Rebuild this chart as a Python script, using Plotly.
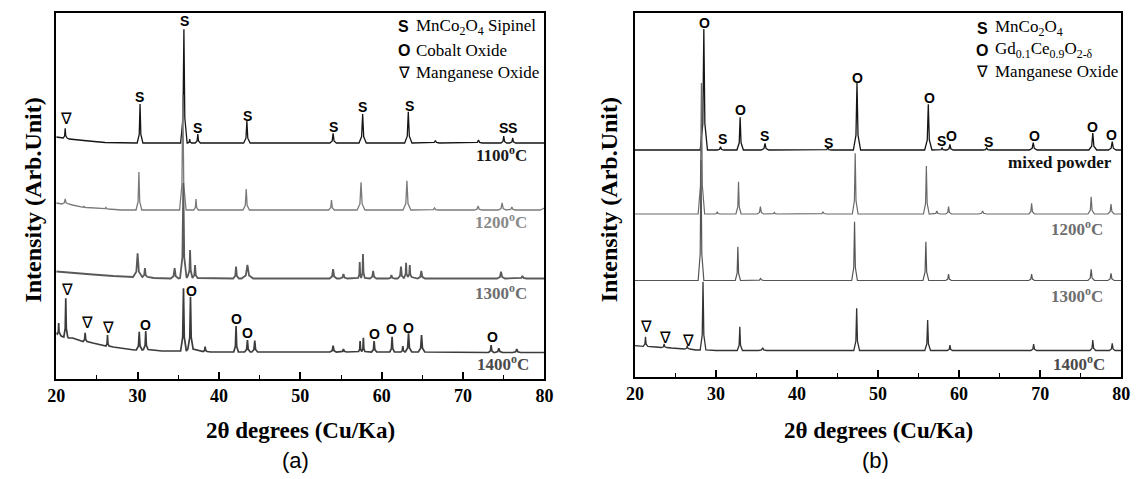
import plotly.graph_objects as go

W, H = 1140, 479

# ---------------- panel (a): MnCo2O4 after firing at several temperatures ----------------
# background points (2theta, intensity) and peaks (2theta, apex, half-width, foot level)
a1100_bg = [(20.0, 242), (20.7, 241.5), (21.6, 240), (22.5, 239.5), (24.0, 238), (26.0, 236.5), (28.0, 236), (80.0, 236)]
a1100_peaks = [
    (21.1, 250.7, 0.15, 241), (30.3, 275, 0.22, 236), (35.69, 349.7, 0.25, 236), (36.4, 240, 0.15, 236),
    (37.4, 245, 0.2, 236), (43.43, 258, 0.25, 236), (54.03, 245.7, 0.25, 236), (57.66, 265, 0.28, 236),
    (63.27, 267.3, 0.28, 236), (66.6, 238.5, 0.3, 236), (71.9, 239, 0.3, 236), (75.0, 243, 0.22, 236),
    (76.1, 241, 0.22, 236),
]

a1200_bg = [(20.0, 176), (20.6, 175), (22.0, 174), (23.0, 172), (24.5, 171), (25.5, 170.5), (28.0, 169), (79.5, 169), (80.0, 171)]
a1200_peaks = [
    (21.1, 180, 0.25, 175), (23.4, 172.5, 0.2, 171.5), (26.1, 171.5, 0.2, 170), (30.16, 207, 0.22, 169),
    (35.56, 284, 0.25, 169), (37.18, 180, 0.18, 169), (43.35, 190, 0.25, 169), (53.83, 179, 0.22, 169),
    (57.46, 196.7, 0.3, 169), (63.1, 198.3, 0.3, 169), (66.5, 171, 0.3, 169), (71.85, 173, 0.3, 169),
    (74.8, 176, 0.3, 169), (76.0, 172, 0.3, 169),
]

a1300_bg = [(20.0, 107.5), (21.0, 107), (22.5, 106), (24.5, 104.5), (27.0, 103), (29.0, 102), (32.0, 101), (33.5, 100.5), (80.0, 100.5)]
a1300_peaks = [
    (30.0, 125.7, 0.35, 102), (30.9, 111, 0.2, 102), (34.55, 111, 0.3, 100.5), (35.62, 196, 0.25, 101),
    (36.45, 129, 0.17, 103), (37.06, 114, 0.2, 101), (42.1, 112.3, 0.22, 100.5), (43.5, 114, 0.45, 100.5),
    (54.03, 110, 0.28, 100.5), (55.3, 105, 0.3, 100.5), (57.3, 117, 0.12, 101), (57.7, 125, 0.14, 101),
    (58.95, 108, 0.25, 100.5), (61.2, 104, 0.25, 100.5), (62.37, 112.3, 0.25, 100.5), (63.0, 116.3, 0.13, 102),
    (63.45, 114, 0.14, 102), (64.87, 108, 0.28, 100.5), (74.67, 107.3, 0.3, 100.5), (77.3, 103, 0.3, 100.5),
]

a1400_bg = [(20.0, 46), (20.6, 43), (21.5, 41), (22.0, 41), (23.0, 38), (24.5, 36), (25.5, 34.5), (27.0, 32),
            (28.5, 30), (29.6, 29), (33.0, 28), (39.0, 27), (80.0, 26.5)]
a1400_peaks = [
    (20.3, 56, 0.1, 45), (21.17, 80.7, 0.15, 42), (23.55, 46.3, 0.15, 37.5), (26.3, 44, 0.12, 33),
    (30.2, 47.3, 0.22, 29), (31.0, 48, 0.18, 29.5), (35.64, 90.7, 0.22, 28), (36.5, 82.3, 0.2, 30),
    (38.3, 32.3, 0.15, 27.5), (42.1, 53, 0.18, 27), (43.5, 39, 0.22, 27), (44.4, 38.3, 0.22, 27),
    (54.03, 33.3, 0.25, 27), (55.3, 30, 0.25, 27), (57.35, 38, 0.12, 27.5), (57.75, 41.3, 0.12, 27.5),
    (59.07, 38, 0.2, 27), (61.28, 42.3, 0.18, 27), (62.6, 33, 0.15, 27), (63.3, 45.7, 0.25, 27),
    (64.9, 44, 0.25, 27), (73.45, 34, 0.2, 26.5), (74.4, 30.7, 0.3, 26.5), (76.6, 30, 0.3, 26.5),
]

# phase markers for panel (a)
a_spinel = [(30.25, 281.7), (35.76, 358), (37.38, 250.7), (43.47, 263), (54.03, 252.3), (57.66, 271.7),
            (63.39, 273), (75.0, 251), (76.1, 251)]
a_cobalt = [(31.0, 54), (36.66, 88.3), (42.14, 60), (43.55, 45.7), (59.16, 44.7), (61.25, 49.7), (63.27, 51.3), (73.59, 42.3)]
a_mn = [(21.2, 260.7), (21.3, 89.7), (23.79, 56.3), (26.37, 51.3)]

# ---------------- panel (b): MnCo2O4 + GDC mixtures ----------------
bmix_bg = [(20.0, 227), (80.0, 227)]
bmix_peaks = [
    (28.5, 348, 0.28, 227), (30.56, 230.3, 0.25, 227), (32.98, 259.7, 0.25, 227), (36.05, 233.7, 0.3, 227),
    (43.8, 229, 0.3, 227), (47.4, 294.3, 0.28, 227), (56.2, 272.7, 0.28, 227), (57.9, 229, 0.25, 227),
    (58.87, 232.7, 0.25, 227), (63.4, 229, 0.3, 227), (69.15, 234.3, 0.3, 227), (76.5, 244, 0.3, 227),
    (78.9, 235.3, 0.3, 227),
]

b1200_bg = [(20.0, 163), (80.0, 163)]
b1200_peaks = [
    (28.2, 294, 0.25, 163), (30.16, 165.3, 0.2, 163), (32.78, 195.3, 0.2, 163), (35.48, 170.3, 0.25, 163),
    (37.2, 164.5, 0.25, 163), (43.2, 165, 0.3, 163), (47.18, 223.7, 0.22, 163), (55.96, 211, 0.22, 163),
    (57.25, 166, 0.25, 163), (58.7, 170.3, 0.22, 163), (62.9, 166, 0.3, 163), (68.95, 173.7, 0.22, 163),
    (76.3, 180.3, 0.25, 163), (78.75, 173, 0.25, 163),
]

b1300_bg = [(20.0, 96.5), (80.0, 96.5)]
b1300_peaks = [
    (28.15, 217, 0.22, 96.5), (32.7, 130.3, 0.2, 96.5), (35.5, 98.5, 0.3, 96.5), (47.1, 155.3, 0.22, 96.5),
    (55.9, 135.3, 0.22, 96.5), (58.7, 103, 0.22, 96.5), (68.95, 103, 0.22, 96.5), (76.3, 107.7, 0.25, 96.5),
    (78.75, 103.7, 0.25, 96.5),
]

b1400_bg = [(20.0, 31.3), (20.8, 31), (22.5, 30), (24.5, 29), (26.0, 28.3), (27.5, 27), (30.0, 26.5), (80.0, 26.5)]
b1400_peaks = [
    (21.3, 40.3, 0.18, 30.7), (23.6, 33, 0.2, 29.5), (26.45, 31, 0.2, 28), (28.4, 95.3, 0.22, 27),
    (32.94, 50.3, 0.2, 26.5), (35.76, 29.3, 0.3, 26.5), (47.36, 68.7, 0.22, 26.5), (56.12, 57, 0.22, 26.5),
    (58.87, 32, 0.2, 26.5), (69.2, 33, 0.22, 26.5), (76.5, 37, 0.22, 26.5), (78.9, 33.7, 0.22, 26.5),
]

b_spinel = [(30.8, 237.7), (35.98, 241), (43.87, 234.3), (57.85, 236), (63.65, 235.3)]
b_gdc = [(28.62, 354.5), (33.02, 267), (47.43, 298.7), (56.32, 278.7), (59.11, 241), (69.36, 241), (76.46, 250.3), (78.87, 242)]
b_mn = [(21.42, 51), (23.73, 39.3), (26.55, 37)]

# sample labels: (text, 2theta of right edge, intensity, colour)
a_labels = [("1100", 78.06, 225, "#1a1a1a"), ("1200", 78.06, 158.3, "#8a8a8a"),
            ("1300", 78.06, 87.3, "#6e6e6e"), ("1400", 78.3, 15.7, "#4a4a4a")]
b_labels = [("mixed powder", 79.1, 214.3, "#111111"), ("1200", 78.0, 149, "#6e6e6e"),
            ("1300", 78.0, 82, "#6e6e6e"), ("1400", 78.25, 13.7, "#4a4a4a")]

SERIF = "Liberation Serif"
SANS = "Liberation Sans"

# peak glyph: foot spread relative to the half-width, plus a knee that sharpens the tip
FOOT = 1.6
KNEE = 0.45
KNEE_FRAC = 0.22


def pattern(bg, peaks):
    """Polyline through the background points and a pointed profile for each peak."""
    pts = list(bg)
    for pos, top, hw, base in peaks:
        kh = base + KNEE_FRAC * (top - base)
        pts += [(pos - hw * FOOT, base), (pos - hw * KNEE, kh), (pos, top),
                (pos + hw * KNEE, kh), (pos + hw * FOOT, base)]
    pts.sort(key=lambda p: p[0])
    return [p[0] for p in pts], [p[1] for p in pts]


fig = go.Figure()

a_series = [(a1100_bg, a1100_peaks, "#151515", 1.3), (a1200_bg, a1200_peaks, "#7a7a7a", 1.3),
            (a1300_bg, a1300_peaks, "#5a5a5a", 1.8), (a1400_bg, a1400_peaks, "#3c3c3c", 1.7)]
b_series = [(bmix_bg, bmix_peaks, "#151515", 1.3), (b1200_bg, b1200_peaks, "#6a6a6a", 1.2),
            (b1300_bg, b1300_peaks, "#555555", 1.2), (b1400_bg, b1400_peaks, "#333333", 1.3)]

for bg, pk, col, lw in a_series:
    x, y = pattern(bg, pk)
    fig.add_trace(go.Scatter(x=x, y=y, mode="lines", line=dict(color=col, width=lw),
                             xaxis="x", yaxis="y", showlegend=False, hoverinfo="skip"))
for bg, pk, col, lw in b_series:
    x, y = pattern(bg, pk)
    fig.add_trace(go.Scatter(x=x, y=y, mode="lines", line=dict(color=col, width=lw),
                             xaxis="x2", yaxis="y2", showlegend=False, hoverinfo="skip"))

ann = []


def mark(items, text, xr, yr, family, size, bold=True):
    for x, y in items:
        ann.append(dict(x=x, y=y, xref=xr, yref=yr, text=text, showarrow=False,
                        font=dict(family=family, size=size, color="black", weight="bold" if bold else "normal"),
                        xanchor="center", yanchor="middle"))


mark(a_spinel, "S", "x", "y", SANS, 14)
mark(a_cobalt, "O", "x", "y", SANS, 14)
mark(a_mn, "∇", "x", "y", "DejaVu Sans", 16, bold=False)
mark(b_spinel, "S", "x2", "y2", SANS, 14)
mark(b_gdc, "O", "x2", "y2", SANS, 14)
mark(b_mn, "∇", "x2", "y2", "DejaVu Sans", 16, bold=False)

# phase keys
a_key = [("S", SANS, 16, True, "MnCo<sub>2</sub>O<sub>4</sub> Sipinel", 352.3),
         ("O", SANS, 16, True, "Cobalt Oxide", 329),
         ("∇", "DejaVu Sans", 16, False, "Manganese Oxide", 306.3)]
b_key = [("S", SANS, 16, True, "MnCo<sub>2</sub>O<sub>4</sub>", 348.7),
         ("O", SANS, 16, True, "Gd<sub>0.1</sub>Ce<sub>0.9</sub>O<sub>2-δ</sub>", 327),
         ("∇", "DejaVu Sans", 16, False, "Manganese Oxide", 306)]
for keys, xr, yr, xs, xt in [(a_key, "x", "y", 62.7, 64.0), (b_key, "x2", "y2", 62.88, 64.17)]:
    for sym, fam, sz, bold, label, yv in keys:
        ann.append(dict(x=xs, y=yv, xref=xr, yref=yr, text=sym, showarrow=False,
                        font=dict(family=fam, size=sz, color="black", weight="bold" if bold else "normal"),
                        xanchor="center", yanchor="middle"))
        ann.append(dict(x=xt, y=yv, xref=xr, yref=yr, text=label, showarrow=False,
                        font=dict(family=SERIF, size=17, color="black"),
                        xanchor="left", yanchor="middle"))

for labels, xr, yr in [(a_labels, "x", "y"), (b_labels, "x2", "y2")]:
    for t, xv, yv, col in labels:
        txt = t if not t[0].isdigit() else t + "<sup>o</sup>C"
        ann.append(dict(x=xv, y=yv, xref=xr, yref=yr, text=txt, showarrow=False,
                        font=dict(family=SERIF, size=17, color=col, weight="bold"),
                        xanchor="right", yanchor="middle"))


# axis titles and panel captions (paper coordinates)
def paper(px, py):
    return px / W, 1 - py / H


for cx in (296, 883):
    x, y = paper(cx, 430)
    ann.append(dict(x=x, y=y, xref="paper", yref="paper", text="2θ degrees (Cu/Ka)", showarrow=False,
                    font=dict(family=SERIF, size=23, color="black", weight="bold"),
                    xanchor="center", yanchor="middle"))
for cx in (24, 610):
    x, y = paper(cx, 200)
    ann.append(dict(x=x, y=y, xref="paper", yref="paper", text="Intensity (Arb.Unit)", showarrow=False,
                    textangle=-90, font=dict(family=SERIF, size=24, color="black", weight="bold"),
                    xanchor="center", yanchor="middle"))
for cx, t in ((291, "(a)"), (880, "(b)")):
    x, y = paper(cx, 460)
    ann.append(dict(x=x, y=y, xref="paper", yref="paper", text=t, showarrow=False,
                    font=dict(family=SANS, size=22, color="black"),
                    xanchor="center", yanchor="middle"))

xcommon = dict(range=[20, 80], tick0=20, dtick=10, ticks="inside", ticklen=7, tickwidth=1.5, tickcolor="black",
               showline=True, linecolor="black", linewidth=1.5, mirror=True, showgrid=False, zeroline=False,
               tickfont=dict(family=SERIF, size=18, color="black", weight="bold"),
               minor=dict(dtick=5, ticks="inside", ticklen=4, tickwidth=1.2, tickcolor="black", showgrid=False))
ycommon = dict(showline=True, linecolor="black", linewidth=1.5, mirror=True, showgrid=False, zeroline=False,
               showticklabels=False, ticks="")

fig.update_layout(
    width=W, height=H, margin=dict(l=0, r=0, t=0, b=0),
    paper_bgcolor="white", plot_bgcolor="white", showlegend=False,
    xaxis=dict(domain=[48 / W, 544 / W], anchor="y", **xcommon),
    yaxis=dict(domain=[1 - 379 / H, 1 - 13 / H], anchor="x", range=[0, 366], **ycommon),
    xaxis2=dict(domain=[636 / W, 1130 / W], anchor="y2", **xcommon),
    yaxis2=dict(domain=[1 - 377 / H, 1 - 13 / H], anchor="x2", range=[0, 364], **ycommon),
    annotations=ann,
)

fig.write_html("out.html")
